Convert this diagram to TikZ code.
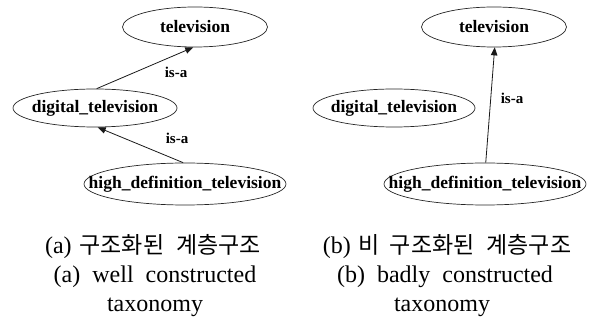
\documentclass[tikz,border=0pt]{standalone}
\usepackage{fontspec}
\setmainfont{Liberation Serif}
\newfontfamily\kofont{Noto Sans CJK KR}
\newcommand\conceptfont{\fontsize{17.5}{19}\selectfont\bfseries}
\newcommand\kotext[1]{{\kofont\fontsize{23}{26}\selectfont #1}}
\usetikzlibrary{shapes.geometric,arrows.meta}
\begin{document}
\begin{tikzpicture}[x=1pt,y=-1pt,
  concept/.style={draw=black!85,line width=0.7pt,ellipse,inner sep=0pt},
  isa/.style={font=\fontsize{15}{16}\selectfont\bfseries,inner sep=0pt},
  rel/.style={draw=black!90,line width=0.8pt,-{Triangle[length=8pt,width=6.5pt]}},
  captext/.style={font=\fontsize{24}{28}\selectfont,inner sep=0pt,anchor=base}
]
\useasboundingbox (0,0) rectangle (589,320);
% left panel
\node[concept,minimum width=145pt,minimum height=40pt] (tvA) at (195,27) {\makebox[0pt]{\conceptfont television}};
\node[concept,minimum width=164pt,minimum height=38pt] (digA) at (95,108) {\makebox[0pt]{\conceptfont digital\_television}};
\node[concept,minimum width=202pt,minimum height=42pt] (hdtA) at (185,184) {\makebox[0pt]{\conceptfont high\_definition\_television}};
\draw[rel] (digA.85) -- (tvA.265);
\draw[rel] (hdtA.95) -- (digA.-82);
\node[isa] (isaA1) at (176,72) {is-a};
\node[isa] (isaA2) at (177,138) {is-a};
% right panel
\node[concept,minimum width=145pt,minimum height=40pt] (tvB) at (494,27) {\makebox[0pt]{\conceptfont television}};
\node[concept,minimum width=162pt,minimum height=38pt] (digB) at (394,108) {\makebox[0pt]{\conceptfont digital\_television}};
\node[concept,minimum width=202pt,minimum height=42pt] (hdtB) at (485,184) {\makebox[0pt]{\conceptfont high\_definition\_television}};
\draw[rel] (hdtB.88) -- (tvB.272);
\node[isa] (isaB) at (512,98) {is-a};
% captions
\node[captext] (capA1) at (153,254) {(a)\hspace{8pt}\kotext{구조화된\hspace{12pt}계층구조}};
\node[captext] (capA2) at (155,283) {(a)~~well~~constructed};
\node[captext] (capA3) at (155,312) {taxonomy};
\node[captext] (capB1) at (447,254) {(b)\hspace{8pt}\kotext{비\hspace{10pt}구조화된\hspace{12pt}계층구조}};
\node[captext] (capB2) at (445,283) {(b)~~badly~~constructed};
\node[captext] (capB3) at (442,312) {taxonomy};
\end{tikzpicture}
\end{document}
